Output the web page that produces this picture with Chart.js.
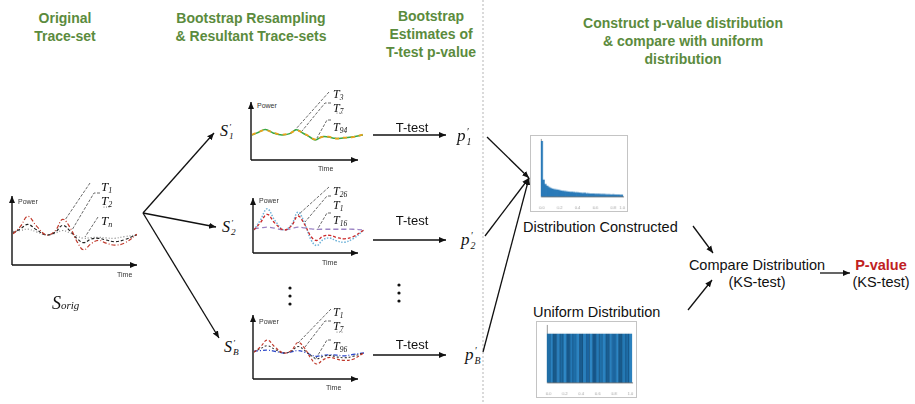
<!DOCTYPE html>
<html>
<head>
<meta charset="utf-8">
<script src="https://cdn.jsdelivr.net/npm/chart.js@4.4.1/dist/chart.umd.min.js"></script>
<style>
  html, body { margin: 0; padding: 0; background: #fff; }
  #stage { position: relative; width: 915px; height: 404px; overflow: hidden; font-family: "Liberation Sans", Arial, sans-serif; }
  .abs { position: absolute; white-space: nowrap; }
  .ctr { transform: translateX(-50%); text-align: center; }
  .head { color: #5b8b3d; font-weight: bold; font-size: 14px; line-height: 18px; }
  .txt { font-size: 14.5px; color: #111; line-height: 17px; }
  .tt { font-size: 13px; color: #111; }
  .tiny { font-size: 7px; color: #333; line-height: 8px; }
  .m { font-family: "Liberation Serif", "DejaVu Serif", serif; font-style: italic; color: #111; line-height: 1; }
  .m sub { font-size: 0.62em; line-height: 0; vertical-align: -0.25em; }
  .ss { display: inline-block; vertical-align: middle; line-height: 1; font-size: 0.58em; margin-left: 1px; text-align: left; }
  .ss span { display: block; }
  canvas { position: absolute; }
  svg { position: absolute; left: 0; top: 0; }
</style>
</head>
<body>
<div id="stage">
  <svg id="ov" width="915" height="404"></svg>
</div>
<script>
// ---- data ----
const traceX = [0, 6, 12, 19, 27, 34, 40, 46, 52, 57, 63, 69, 75, 82, 90, 100];

// original trace-set
const origT1 = [0.3, 2.5, 5.5, 2.6, 0, 1.2, 4.6, 2.2, -2.2, -4.4, -2.6, -1.6, -2.4, -3, -2.4, 0.2];
const origT2 = [0.5, 1.8, 3.1, 1.5, 0, 0.8, 2.8, 1.2, -1.2, -2.3, -1.2, -1, -1.5, -2, -1.4, 0.1];
const origTn = [1, 1.3, 1.7, 0.9, 0, 0.5, 1.3, 0.6, -0.4, -1, -0.8, -0.7, -0.9, -1, -0.5, 0];

// resampled set 1
const s1T3 = [0, 0.8, 1.6, 0.6, 0, 0.4, 1.5, 0.5, -0.6, -1.5, -0.5, -0.6, -1, -0.9, -0.6, 0];
const s1T7 = [0.1, 0.9, 1.4, 0.7, 0.1, 0.5, 1.3, 0.6, -0.5, -1.3, -0.6, -0.5, -1.1, -0.8, -0.7, 0.1];

// resampled set 2
const s2T26 = [0, 3, 6.2, 2.8, 0, 1.5, 5.2, 2, -3, -4.6, -2.8, -2.4, -3.2, -3.6, -2.6, 0];
const s2T1 = [0, 2.2, 4.6, 2, 0, 1.2, 4.1, 1.6, -2, -3.1, -1.8, -1.6, -2.2, -2.6, -2, 0];
const s2T16 = [0.4, 0.6, 0.8, 0.5, 0, 0.4, 0.8, 0.6, 0.3, 0.2, 0.2, 0.2, 0.2, 0.2, 0.2, 0];

// resampled set B
const sbT1 = [0.3, 2.6, 5.4, 2.5, 0, 1.1, 4.4, 2, -2.4, -4.6, -2.8, -1.8, -2.5, -3.1, -2.6, 0.1];
const sbT7 = [0.5, 1.8, 3, 1.5, 0, 0.8, 2.7, 1.1, -1.1, -2.4, -1.4, -1, -1.6, -2, -1.4, 0.1];
const sbT96 = [0.8, 1, 1.2, 0.7, 0, 0.5, 1, 0.4, -0.8, -1.4, -0.9, -0.8, -0.9, -1.2, -0.6, 0];

// p-value histogram (bootstrap estimates)
const pBins = ["0.0","","","","","","","","","","0.2","","","","","","","","","","0.4","","","","","","","","","","0.6","","","","","","","","","","0.8","","","","","1.0"];
const pCounts = [100, 30, 22, 19, 17, 15, 14, 13, 12.5, 12, 11, 10.5, 10, 9.4, 9, 8.6, 8.2, 8, 7.5, 7.1, 7.3, 6.6, 6.3, 6, 6.2, 5.6, 5.4, 5.2, 5, 5.1, 4.6, 4.5, 4.4, 4.2, 4.3, 4, 3.8, 3.9, 3.6, 3.5, 3.6, 3.3, 3.2, 3.1, 3, 2.9];

// uniform reference distribution
const uBins = ["0.0","","","","","0.2","","","","","0.4","","","","","0.6","","","","","0.8","","","","","1.0"];
const uCounts = [1, 1, 1, 1, 1, 1, 1, 1, 1, 1, 1, 1, 1, 1, 1, 1, 1, 1, 1, 1, 1, 1, 1, 1, 1, 1];
const uColors = ["#1f6fa8","#2b82c0","#185a8a","#2a7fbc","#1d6aa2","#2f88c6","#17578a","#2478b5","#1e6ea8","#2c84c2","#195c90","#2a80bd","#1b64a0","#2e87c5","#16568a","#2579b6","#1f70aa","#2b83c1","#1a5e92","#2a80bd","#1c66a0","#2d85c3","#175a8c","#2479b5","#1e6ca6","#2a82bf"];

// ---- helpers ----
const stage = document.getElementById("stage");
const ov = document.getElementById("ov");
const NS = "http://www.w3.org/2000/svg";

function put(html, x, y, cls, center) {
  const d = document.createElement("div");
  d.className = "abs " + cls + (center ? " ctr" : "");
  d.style.left = x + "px";
  d.style.top = y + "px";
  d.innerHTML = html;
  stage.appendChild(d);
  return d;
}

// primed symbol with stacked prime / subscript (S'_1, p'_B)
function sym(base, sub, size) {
  return '<span class="m" style="font-size:' + size + 'px">' + base +
    '<span class="ss"><span>′</span><span>' + sub + '</span></span></span>';
}
// plain subscripted trace label (T_1)
function tl(sub, size) {
  return '<span class="m" style="font-size:' + size + 'px">T<sub>' + sub + '</sub></span>';
}

function svgEl(tag, attrs) {
  const e = document.createElementNS(NS, tag);
  for (const k in attrs) e.setAttribute(k, attrs[k]);
  ov.appendChild(e);
  return e;
}

const defs = svgEl("defs", {});
const mk = document.createElementNS(NS, "marker");
mk.setAttribute("id", "ah");
mk.setAttribute("markerWidth", "8");
mk.setAttribute("markerHeight", "8");
mk.setAttribute("refX", "7");
mk.setAttribute("refY", "4");
mk.setAttribute("orient", "auto");
mk.setAttribute("markerUnits", "userSpaceOnUse");
const mp = document.createElementNS(NS, "path");
mp.setAttribute("d", "M0,1 L7,4 L0,7 z");
mp.setAttribute("fill", "#111");
mk.appendChild(mp);
defs.appendChild(mk);

function arrow(x1, y1, x2, y2, w) {
  svgEl("line", { x1, y1, x2, y2, stroke: "#111", "stroke-width": w || 1.3, "marker-end": "url(#ah)" });
}
function lead(pts) {
  svgEl("polyline", { points: pts, fill: "none", stroke: "#444", "stroke-width": 0.8, "stroke-dasharray": "3,1.5" });
}
function dots(x, y0) {
  [0, 8, 16].forEach(dy => svgEl("circle", { cx: x, cy: y0 + dy, r: 1.6, fill: "#111" }));
}
function smallDots(x, y) {
  [0, 2.5, 5].forEach(dx => svgEl("circle", { cx: x + dx, cy: y, r: 0.5, fill: "#555" }));
}
function axes(x0, yTop, yBot, xEnd, powerY, timeX, timeY) {
  arrow(x0, yBot, x0, yTop, 1.4);
  arrow(x0, yBot, xEnd, yBot, 1.4);
  put("Power", x0 + 6, powerY, "tiny", false);
  put("Time", timeX, timeY, "tiny", false);
}

function traceChart(left, top, w, h, yMin, yMax, sets) {
  const c = document.createElement("canvas");
  c.width = w; c.height = h;
  c.style.left = left + "px"; c.style.top = top + "px";
  stage.appendChild(c);
  new Chart(c.getContext("2d"), {
    type: "line",
    data: {
      datasets: sets.map(s => ({
        data: traceX.map((x, i) => ({ x, y: s.v[i] })),
        borderColor: s.c, borderWidth: s.w || 1.2, borderDash: s.d,
        pointRadius: 0, tension: 0.4, fill: false
      }))
    },
    options: {
      responsive: false, animation: false,
      layout: { padding: 0 },
      plugins: { legend: { display: false }, tooltip: { enabled: false } },
      scales: {
        x: { type: "linear", min: 0, max: 100, display: false },
        y: { min: yMin, max: yMax, display: false }
      }
    }
  });
}

function histChart(left, top, w, h, labels, values, colors, border, yMax) {
  const c = document.createElement("canvas");
  c.width = w; c.height = h;
  c.style.left = left + "px"; c.style.top = top + "px";
  c.style.border = "1px solid #c4c4c4";
  stage.appendChild(c);
  new Chart(c.getContext("2d"), {
    type: "bar",
    data: {
      labels,
      datasets: [{ data: values, backgroundColor: colors, borderColor: border, borderWidth: border ? 0.4 : 0,
        categoryPercentage: 1, barPercentage: 1 }]
    },
    options: {
      responsive: false, animation: false,
      layout: { padding: { left: 2, right: 4, top: 3, bottom: 0 } },
      plugins: { legend: { display: false }, tooltip: { enabled: false } },
      scales: {
        x: { grid: { display: false }, border: { color: "#777" },
             ticks: { font: { size: 4 }, color: "#999", maxRotation: 0, autoSkip: false, padding: 1 } },
        y: { beginAtZero: true, max: yMax, grid: { display: false }, border: { color: "#999" },
             ticks: { display: false } }
      }
    }
  });
}

// ---- headers ----
put("Original<br>Trace-set", 65, 9, "head", true);
put("Bootstrap Resampling<br>&amp; Resultant Trace-sets", 251, 9, "head", true);
put("Bootstrap<br>Estimates of<br>T-test p-value", 431, 7, "head", true);
put("Construct p-value distribution<br>&amp; compare with uniform<br>distribution", 683, 14, "head", true);
svgEl("line", { x1: 483, y1: 0, x2: 483, y2: 404, stroke: "#b5b5b5", "stroke-width": 1, "stroke-dasharray": "2,2" });

// ---- original trace-set ----
traceChart(13, 200, 124, 60, -7.4, 10.3, [
  { v: origT1, c: "#c0392b", d: [4, 2, 1, 2] },
  { v: origT2, c: "#222", d: [3, 2] },
  { v: origTn, c: "#888", d: [1, 2] }
]);
axes(12, 196, 265, 137, 198, 117, 271);
lead("90,183 65,220");
lead("100,193 94,193 72,230");
lead("98,217 85,237");
put(tl("1", 13), 101, 177, "", false);
put(tl("2", 13), 101, 191, "", false);
smallDots(104, 207);
put(tl("n", 13), 101, 211, "", false);
put('<span class="m" style="font-size:18px">S<span style="font-size:11px">orig</span></span>', 52, 294, "", false);

// ---- fan arrows ----
arrow(143, 213, 214, 133);
arrow(143, 213, 216, 227);
arrow(143, 213, 219, 338);
put(sym("S", "1", 16), 220, 122, "", false);
put(sym("S", "2", 16), 222, 218, "", false);
put(sym("S", "B", 16), 224, 338, "", false);

// ---- resampled set 1 (first dataset is drawn on top) ----
traceChart(252, 110, 111, 45, -5.9, 7.35, [
  { v: s1T7, c: "#eaa21c", d: [4, 4], w: 1.8 },
  { v: s1T3, c: "#3aa845", d: [], w: 1.5 }
]);
axes(251, 102, 160, 358, 102, 318, 165);
lead("329,92 295,130");
lead("331,103 325,103 302,131");
lead("331,120 327,120 317,138");
put(tl("3", 12), 333, 84, "", false);
put(tl("7", 12), 333, 98, "", false);
smallDots(337, 113);
put(tl("94", 12), 333, 117, "", false);

// ---- resampled set 2 ----
traceChart(254, 200, 110, 50, -5.9, 8.8, [
  { v: s2T1, c: "#cc2a2a", d: [3, 2], w: 1.3 },
  { v: s2T26, c: "#6fb3d9", d: [1.5, 1.5], w: 1.5 },
  { v: s2T16, c: "#9b84c4", d: [5, 3], w: 1.3 }
]);
axes(253, 198, 253, 358, 197, 322, 259);
lead("329,187 298,215");
lead("331,196 327,196 305,222");
lead("331,213 327,213 317,230");
put(tl("26", 12), 333, 181, "", false);
put(tl("1", 12), 333, 195, "", false);
put(tl("16", 12), 333, 210, "", false);

// ---- vertical ellipses ----
dots(290, 288);
dots(399, 285);

// ---- resampled set B ----
traceChart(254, 325, 110, 50, -9.2, 11.7, [
  { v: sbT1, c: "#c0392b", d: [3, 2], w: 1.2 },
  { v: sbT7, c: "#333", d: [2, 2], w: 1.1 },
  { v: sbT96, c: "#2a45c8", d: [4, 2, 1, 2], w: 1.3 }
]);
axes(253, 315, 379, 358, 318, 326, 384);
lead("331,309 298,343");
lead("331,321 325,321 305,347");
lead("331,340 327,340 315,360");
put(tl("1", 12), 333, 302, "", false);
put(tl("7", 12), 333, 316, "", false);
smallDots(337, 332);
put(tl("96", 12), 333, 336, "", false);

// ---- T-test arrows ----
arrow(373, 135, 446, 135);
arrow(373, 240, 446, 240);
arrow(373, 355, 446, 355);
put("T-test", 412, 120, "tt", true);
put("T-test", 412, 213, "tt", true);
put("T-test", 412, 337, "tt", true);
put(sym("p", "1", 17), 457, 127, "", false);
put(sym("p", "2", 17), 461, 231, "", false);
put(sym("p", "B", 17), 465, 346, "", false);

// ---- to histogram ----
arrow(487, 137, 529, 178);
arrow(485, 236, 529, 178);
arrow(483, 352, 529, 178);

histChart(530, 135, 98, 77, pBins, pCounts, "#2a7ab8", null, 104);
put("Distribution Constructed", 523, 219, "txt", false);

// ---- uniform ----
put("Uniform Distribution", 533, 304, "txt", false);
histChart(536, 321, 101, 77, uBins, uCounts, uColors, "#0e3f66", 1.18);

// ---- comparison ----
arrow(693, 226, 713, 253);
arrow(688, 310, 712, 280);
put("Compare Distribution<br>(KS-test)", 757, 257, "txt", true);
arrow(820, 273, 850, 273);
put('<span style="color:#c0211f;font-weight:bold">P-value</span><br>(KS-test)', 881, 257, "txt", true);
</script>
</body>
</html>
